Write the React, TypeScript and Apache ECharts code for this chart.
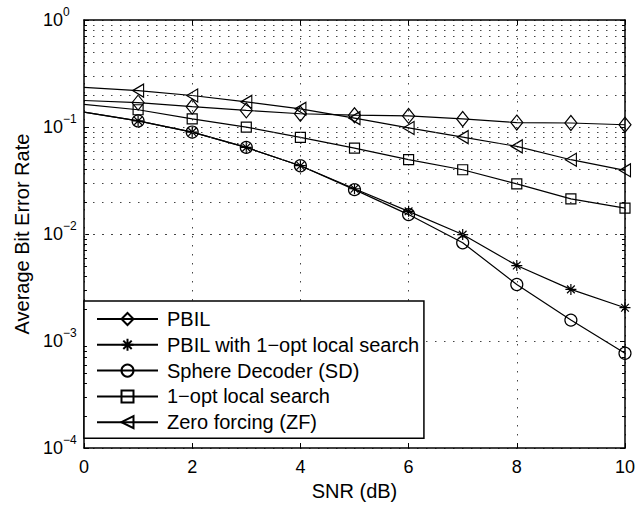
import React, { useEffect, useRef } from 'react';
import * as echarts from 'echarts';

const snr = [0, 1, 2, 3, 4, 5, 6, 7, 8, 9, 10];
const pbil = [0.177, 0.169, 0.155, 0.143, 0.133, 0.129, 0.127, 0.119, 0.11, 0.109, 0.105];
const pbilLocal = [0.138, 0.114, 0.0897, 0.0645, 0.0435, 0.0265, 0.0163, 0.00989, 0.00508, 0.00304, 0.00205];
const sphereDecoder = [0.138, 0.114, 0.0897, 0.0645, 0.0435, 0.026, 0.0152, 0.0083, 0.00338, 0.00157, 0.00077];
const localSearch = [0.163, 0.145, 0.119, 0.0998, 0.08, 0.0636, 0.0495, 0.0399, 0.0294, 0.0213, 0.0175];
const zeroForcing = [0.235, 0.219, 0.197, 0.172, 0.148, 0.121, 0.098, 0.0805, 0.0659, 0.0495, 0.0394];

const seriesNames = [
  'PBIL',
  'PBIL with 1−opt local search',
  'Sphere Decoder (SD)',
  '1−opt local search',
  'Zero forcing (ZF)',
];
const seriesValues = [pbil, pbilLocal, sphereDecoder, localSearch, zeroForcing];
const seriesSymbols: [string, number | number[]][] = [
  ['diamond', [12, 15]],
  ['path://M5,0L5,10M0,5L10,5M1.5,1.5L8.5,8.5M1.5,8.5L8.5,1.5', 11],
  ['circle', 12],
  ['rect', 10],
  ['path://M0,6L10,0L10,12Z', [11, 13]],
];

const FONT = '"Liberation Sans", Arial, Helvetica, sans-serif';
const DOT: number[] = [1.5, 7.5];

export default function App() {
  const ref = useRef<HTMLDivElement>(null);
  useEffect(() => {
    const chart = echarts.init(ref.current!, null, { renderer: 'svg' });

    const minorVals: number[] = [];
    for (let k = -4; k < 0; k++) {
      for (let m = 2; m <= 9; m++) minorVals.push(m * Math.pow(10, k));
    }
    const gridMarks: any[] = minorVals.map((v) => ({
      yAxis: v,
      lineStyle: { type: DOT, color: '#444', width: 1 },
    }));
    minorVals.forEach((v) => {
      gridMarks.push([
        { coord: [0, v], lineStyle: { type: 'solid', color: '#000', width: 1 } },
        { coord: [0.055, v] },
      ]);
      gridMarks.push([
        { coord: [9.945, v], lineStyle: { type: 'solid', color: '#000', width: 1 } },
        { coord: [10, v] },
      ]);
    });

    const axisLine = { show: true, onZero: false, lineStyle: { color: '#000', width: 1.5 } };
    const axisTick = { show: true, inside: true, length: 5, lineStyle: { color: '#000', width: 1 } };

    const series: any[] = seriesNames.map((name, i) => ({
      name,
      type: 'line',
      symbol: seriesSymbols[i][0],
      symbolSize: seriesSymbols[i][1],
      showSymbol: true,
      data: snr.map((x, j) =>
        j === 0 ? { value: [x, seriesValues[i][j]], symbol: 'none' } : [x, seriesValues[i][j]]
      ),
      lineStyle: { color: '#000', width: 1.2 },
      itemStyle: { color: 'transparent', borderColor: '#000', borderWidth: 1.2 },
      z: 3,
      silent: true,
    }));
    series.push({
      name: '_grid',
      type: 'line',
      data: [],
      silent: true,
      z: 1,
      markLine: {
        silent: true,
        symbol: ['none', 'none'],
        label: { show: false },
        animation: false,
        data: gridMarks,
      },
    });

    chart.setOption({
      animation: false,
      textStyle: { fontFamily: FONT },
      grid: { left: 84, right: 13, top: 20, bottom: 57, containLabel: false },
      legend: {
        orient: 'vertical',
        left: 84,
        top: 301,
        data: seriesNames,
        itemWidth: 61,
        itemHeight: 15,
        itemGap: 5.8,
        padding: [8, 4, 6, 12],
        backgroundColor: '#fff',
        borderColor: '#000',
        borderWidth: 1.5,
        borderRadius: 0,
        selectedMode: false,
        textStyle: { fontSize: 20, color: '#000', fontFamily: FONT, lineHeight: 20, padding: [0, 0, 0, 4] },
      },
      xAxis: [
        {
          type: 'value',
          min: 0,
          max: 10,
          interval: 2,
          position: 'bottom',
          axisLine,
          axisTick,
          axisLabel: { fontSize: 18, color: '#000', margin: 10, fontFamily: FONT },
          splitLine: { show: true, lineStyle: { type: DOT, color: '#444', width: 1 } },
          name: 'SNR (dB)',
          nameLocation: 'middle',
          nameGap: 30,
          nameTextStyle: { fontSize: 20, color: '#000', fontFamily: FONT },
        },
        {
          type: 'value',
          min: 0,
          max: 10,
          interval: 2,
          position: 'top',
          axisLine,
          axisTick,
          axisLabel: { show: false },
          splitLine: { show: false },
        },
      ],
      yAxis: [
        {
          type: 'log',
          logBase: 10,
          min: 1e-4,
          max: 1,
          splitNumber: 4,
          axisLine,
          axisTick,
          axisLabel: {
            align: 'left',
            margin: 41,
            color: '#000',
            formatter: (v: number) => {
              const e = Math.round(Math.log10(v));
              const s = e === 0 ? '0' : '−' + Math.abs(e);
              return '{b|10}{s|' + s + '}';
            },
            rich: {
              b: { fontSize: 18, lineHeight: 18, verticalAlign: 'middle', color: '#000', fontFamily: FONT },
              s: { fontSize: 12, lineHeight: 12, padding: [0, 0, 16, 0], verticalAlign: 'middle', color: '#000', fontFamily: FONT },
            },
          },
          splitLine: { show: true, lineStyle: { type: DOT, color: '#444', width: 1 } },
          name: 'Average Bit Error Rate',
          nameLocation: 'middle',
          nameGap: 51,
          nameTextStyle: { fontSize: 20, color: '#000', fontFamily: FONT },
        },
        {
          type: 'log',
          logBase: 10,
          min: 1e-4,
          max: 1,
          splitNumber: 4,
          position: 'right',
          axisLine,
          axisTick,
          axisLabel: { show: false },
          splitLine: { show: false },
        },
      ],
      series,
    });
    return () => chart.dispose();
  }, []);
  return (
    <div
      ref={ref}
      style={{ position: 'fixed', left: 0, top: 0, width: 638, height: 506, background: '#fff' }}
    />
  );
}
